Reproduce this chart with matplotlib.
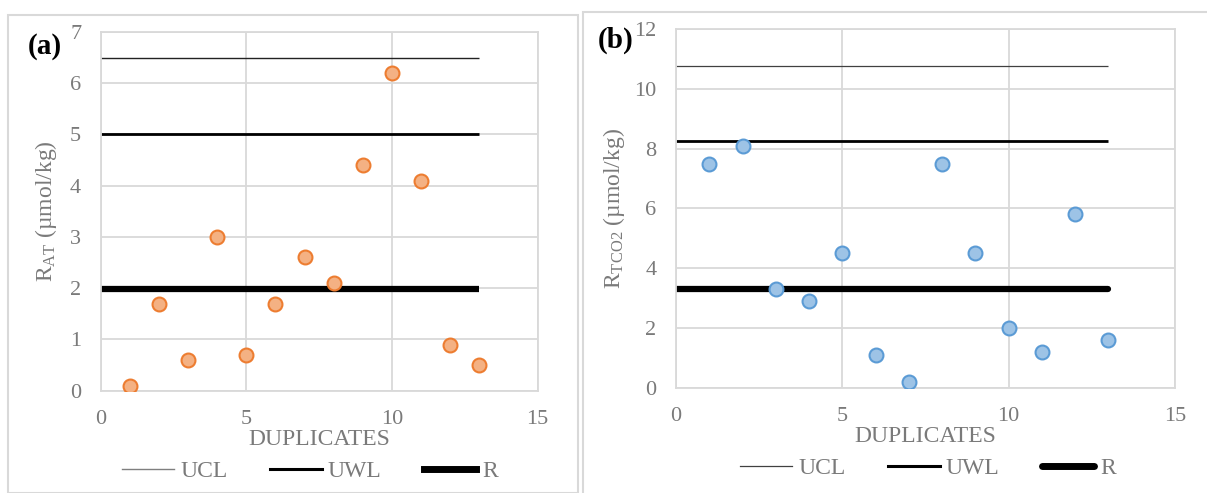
import matplotlib
matplotlib.use("Agg")
import matplotlib.pyplot as plt
from matplotlib.lines import Line2D
from matplotlib.patches import Rectangle

plt.rcParams['font.family'] = ['Liberation Serif', 'DejaVu Serif']
plt.rcParams['mathtext.fontset'] = 'custom'
plt.rcParams['mathtext.rm'] = 'Liberation Serif'
plt.rcParams['mathtext.it'] = 'Liberation Serif:italic'

# ---- data ----
duplicates = list(range(1, 14))
r_at = [0.1, 1.7, 0.6, 3.0, 0.7, 1.7, 2.6, 2.1, 4.4, 6.2, 4.1, 0.9, 0.5]
r_tco2 = [7.5, 8.1, 3.3, 2.9, 4.5, 1.1, 0.2, 7.5, 4.5, 2.0, 1.2, 5.8, 1.6]
line_x = [0, 13]
ucl_a, uwl_a, r_a = 6.5, 5.0, 1.98
ucl_b, uwl_b, r_b = 10.75, 8.25, 3.3
xticks = [0, 5, 10, 15]
yticks_a = [0, 1, 2, 3, 4, 5, 6, 7]
yticks_b = [0, 2, 4, 6, 8, 10, 12]

W, H = 1207, 493
fig = plt.figure(figsize=(W / 100, H / 100), dpi=100)

grey_txt = '#7a7a7a'
grid_c = '#d9d9d9'

# panel borders
fig.patches.append(Rectangle((8 / W, 1 - 493 / H), (578 - 8) / W, (493 - 15) / H,
                             transform=fig.transFigure, fill=False, ec='#d9d9d9', lw=1.5))
fig.patches.append(Rectangle((583 / W, 1 - 500 / H), (1215 - 583) / W, (500 - 12) / H,
                             transform=fig.transFigure, fill=False, ec='#d9d9d9', lw=1.5))


def make_ax(x0, x1, ytop, ybot):
    return fig.add_axes([x0 / W, 1 - ybot / H, (x1 - x0) / W, (ybot - ytop) / H])


def style(ax, ymax, yticks):
    ax.set_xlim(0, 15)
    ax.set_ylim(0, ymax)
    ax.set_xticks(xticks)
    ax.set_yticks(yticks)
    ax.grid(True, color=grid_c, lw=1.3)
    ax.set_axisbelow(True)
    for s in ax.spines.values():
        s.set_color(grid_c)
        s.set_linewidth(1.3)
    ax.tick_params(length=0, labelsize=16, colors=grey_txt, pad=14)
    ax.set_xlabel('DUPLICATES', fontsize=17, color=grey_txt, labelpad=0)


# panel (a)
ax1 = make_ax(100.6, 537.7, 32, 390.7)
style(ax1, 7, yticks_a)
ax1.plot(line_x, [ucl_a, ucl_a], color='#222222', lw=1.0, solid_capstyle='butt')
ax1.plot(line_x, [uwl_a, uwl_a], color='black', lw=2.0, solid_capstyle='butt')
ax1.plot(line_x, [r_a, r_a], color='black', lw=4.5, solid_capstyle='butt')
ax1.plot(duplicates, r_at, 'o', ms=10, mfc='#f4b183', mec='#ed7d31', mew=1.5, ls='none', zorder=5)
ax1.set_ylabel(r'$\mathrm{R_{AT}}$ (µmol/kg)', fontsize=17, color=grey_txt, labelpad=8)
fig.text(45 / W, 1 - 46 / H, '(a)', fontsize=21, fontweight='bold', ha='center', va='center')

leg_a = [Line2D([], [], color='#7f7f7f', lw=1.0),
         Line2D([], [], color='black', lw=2.2),
         Line2D([], [], color='black', lw=5)]
fig.legend(leg_a, ['UCL', 'UWL', 'R'], loc='center', ncol=3,
           bbox_to_anchor=(310 / W, 1 - 471 / H), frameon=False, fontsize=17,
           labelcolor=grey_txt, handlelength=2.2, handletextpad=0.25, columnspacing=1.8)

# panel (b)
ax2 = make_ax(676, 1174.8, 29, 387.7)
style(ax2, 12, yticks_b)
ax2.plot(line_x, [ucl_b, ucl_b], color='#404040', lw=0.9, solid_capstyle='butt')
ax2.plot(line_x, [uwl_b, uwl_b], color='black', lw=2.0, solid_capstyle='butt')
ax2.plot(line_x, [r_b, r_b], color='black', lw=4.5, solid_capstyle='round')
ax2.plot(duplicates, r_tco2, 'o', ms=10, mfc='#9dc3e6', mec='#5b9bd5', mew=1.5, ls='none', zorder=5)
ax2.set_ylabel(r'$\mathrm{R_{TCO2}}$ (µmol/kg)', fontsize=17, color=grey_txt, labelpad=5)
fig.text(616 / W, 1 - 40 / H, '(b)', fontsize=21, fontweight='bold', ha='center', va='center')

leg_b = [Line2D([], [], color='#404040', lw=0.9),
         Line2D([], [], color='black', lw=2.2),
         Line2D([], [], color='black', lw=5, solid_capstyle='round')]
fig.legend(leg_b, ['UCL', 'UWL', 'R'], loc='center', ncol=3,
           bbox_to_anchor=(928 / W, 1 - 468 / H), frameon=False, fontsize=17,
           labelcolor=grey_txt, handlelength=2.2, handletextpad=0.25, columnspacing=1.8)

fig.savefig('out.png', dpi=100)
